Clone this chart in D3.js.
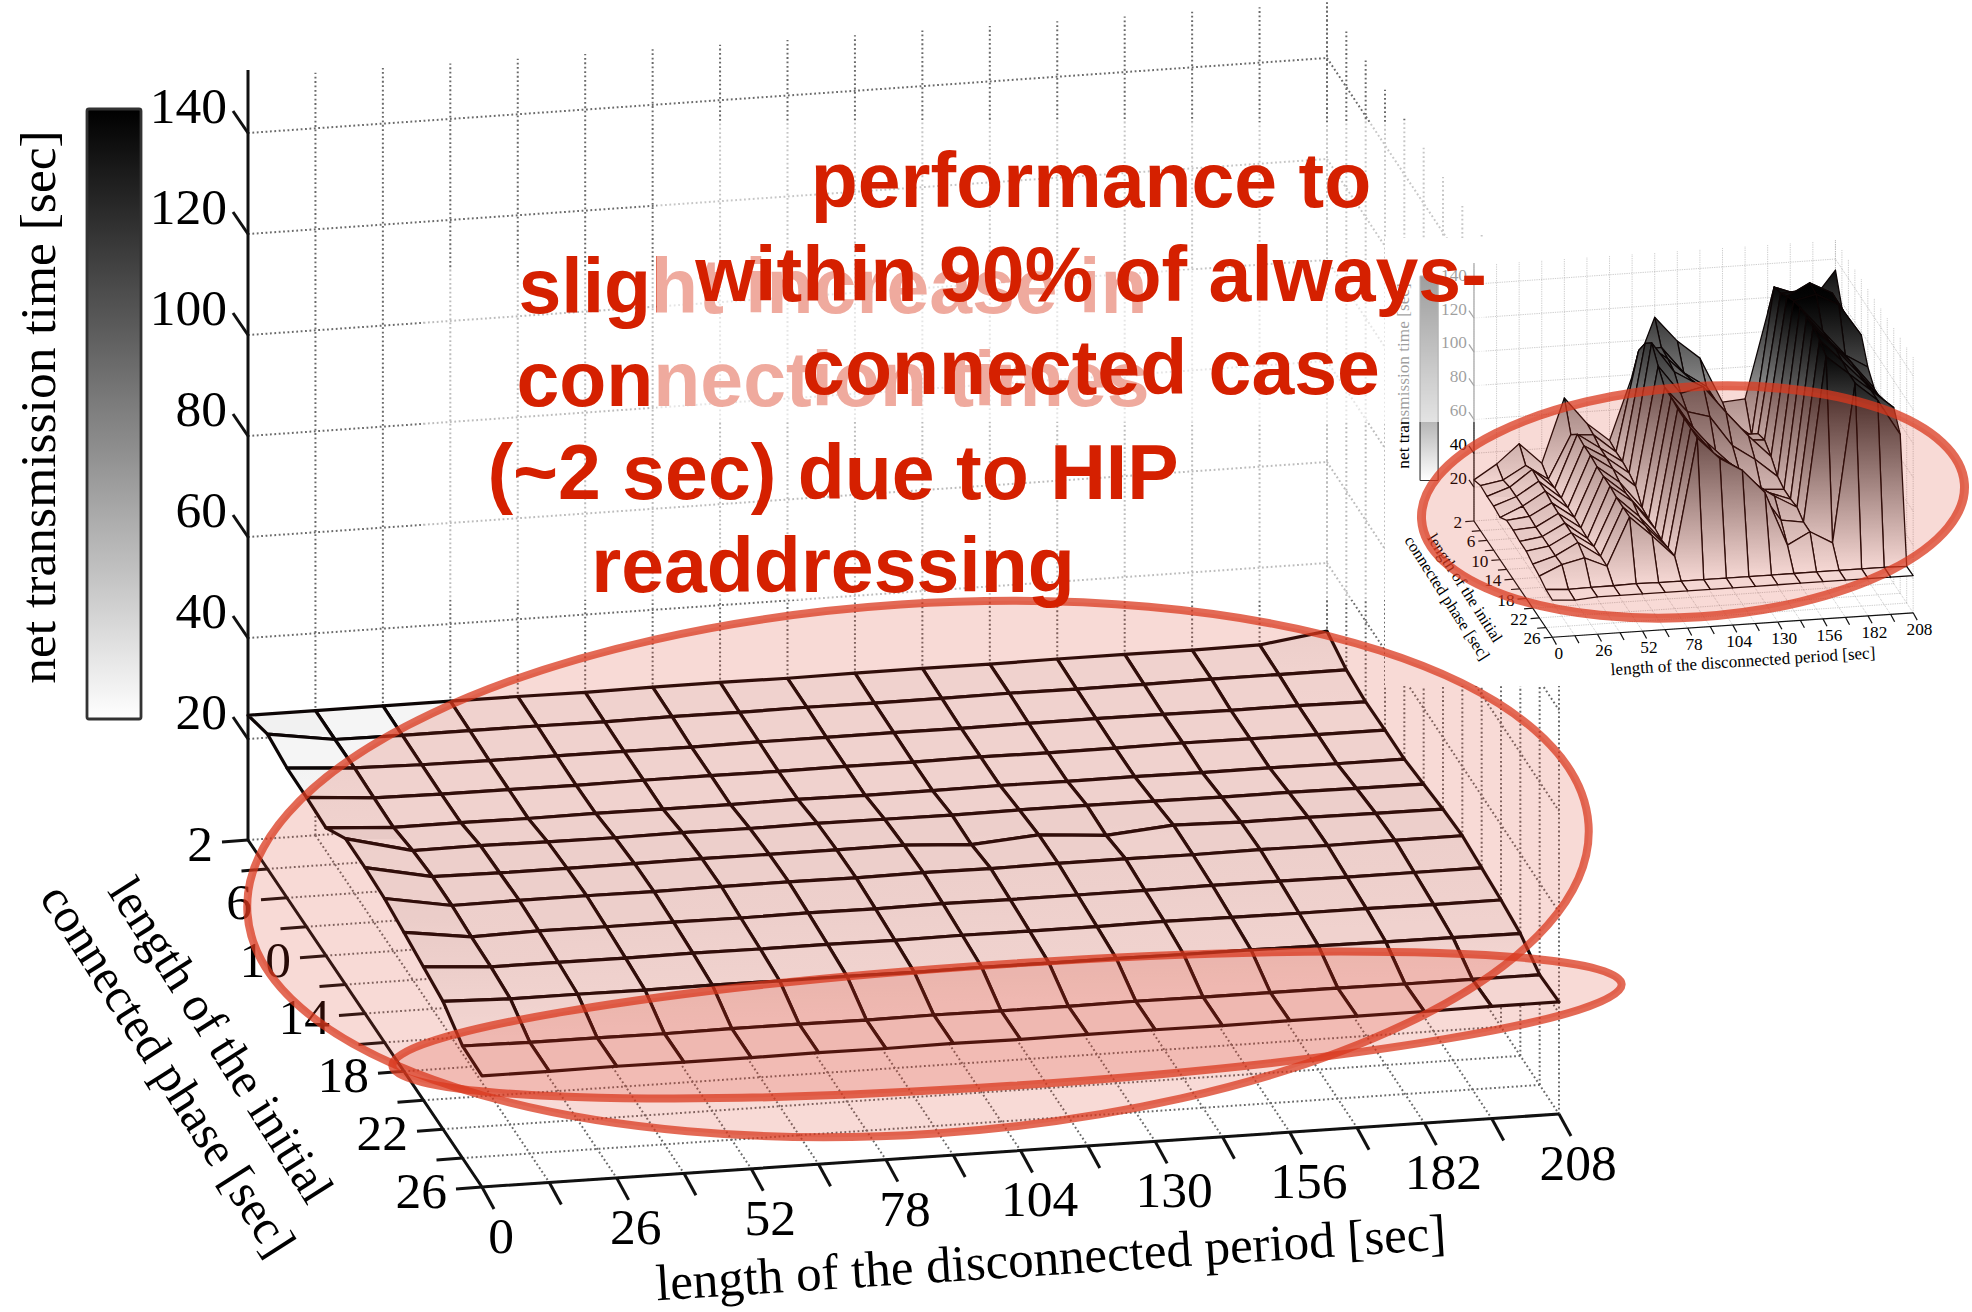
<!DOCTYPE html>
<html>
<head>
<meta charset="utf-8">
<script src="https://cdn.jsdelivr.net/npm/d3@7"></script>
<style>
  html, body { margin: 0; padding: 0; background: #fff; }
  svg { display: block; }
  .serif { font-family: "Liberation Serif", serif; fill: #000; }
  .callout { font-family: "Liberation Sans", sans-serif; font-weight: bold; font-size: 77px; fill: #d52000; text-anchor: middle; }
</style>
</head>
<body>
<div id="chart"></div>
<script>
// Axis values
var xValues = [0, 13, 26, 39, 52, 65, 78, 91, 104, 117, 130, 143, 156, 169, 182, 195, 208];
var yValues = [2, 4, 6, 8, 10, 12, 14, 16, 18, 20, 22, 24, 26];
var zTicks = [20, 40, 60, 80, 100, 120, 140];
var xLabelled = [0, 26, 52, 78, 104, 130, 156, 182, 208];
var yLabelled = [2, 6, 10, 14, 18, 22, 26];

// Net transmission time, one row per y value
var mainSurface = [
  [24.7, 24.7, 24.7, 24.7, 24.7, 24.6, 24.7, 24.7, 24.6, 24.7, 24.7, 24.6, 24.7, 24.7, 24.6, 24.7, 26.5],
  [26.7, 24.7, 24.6, 24.6, 24.6, 24.5, 24.6, 24.5, 24.6, 24.5, 24.5, 24.6, 24.5, 24.5, 24.6, 24.6, 24.6],
  [25.7, 24.8, 24.5, 24.4, 24.4, 24.4, 24.3, 24.4, 24.4, 24.4, 24.3, 24.4, 24.4, 24.3, 24.2, 24.2, 24.0],
  [25.6, 24.6, 24.4, 24.4, 24.3, 24.4, 24.4, 24.3, 24.4, 24.3, 24.4, 24.3, 24.3, 24.4, 24.3, 24.2, 24.2],
  [25.3, 24.5, 24.5, 24.4, 24.5, 24.4, 24.4, 24.5, 24.4, 24.4, 24.5, 24.4, 24.4, 24.3, 24.3, 24.2, 24.2],
  [28.9, 25.6, 25.7, 25.5, 25.4, 25.5, 25.4, 25.5, 25.4, 25.3, 25.4, 25.4, 25.3, 25.2, 25.2, 25.1, 25.0],
  [28.9, 26.2, 26.0, 26.0, 26.0, 26.1, 26.0, 26.0, 26.0, 25.2, 26.2, 25.2, 26.3, 26.0, 26.0, 25.9, 25.8],
  [28.5, 26.2, 26.3, 26.3, 26.2, 26.3, 26.3, 26.2, 26.3, 26.2, 26.3, 26.3, 26.2, 26.3, 26.2, 26.3, 26.3],
  [27.5, 25.7, 26.0, 25.9, 25.9, 25.8, 25.9, 25.8, 25.9, 25.8, 25.8, 25.8, 25.9, 25.8, 25.7, 25.7, 25.7],
  [26.4, 25.5, 25.5, 25.4, 25.5, 25.4, 25.4, 25.3, 25.4, 25.3, 25.3, 25.4, 25.3, 25.2, 25.2, 25.1, 25.1],
  [25.3, 24.9, 24.9, 24.8, 24.9, 24.8, 24.8, 24.7, 24.8, 24.7, 24.7, 24.6, 24.6, 24.5, 24.4, 24.3, 24.2],
  [22.2, 22.0, 22.0, 21.9, 22.0, 22.0, 21.9, 22.0, 21.9, 21.9, 22.0, 21.9, 21.9, 21.9, 21.8, 21.8, 21.8],
  [22.0, 22.0, 22.1, 22.0, 22.0, 22.1, 22.0, 22.1, 22.0, 22.1, 22.1, 22.0, 22.1, 22.1, 22.1, 22.2, 22.2]
];

// Same axes for the small plot top right, the baseline case
var insetSurface = [
  [24.3, 32.7, 43.8, 31.4, 69, 53, 42, 79, 113, 98, 87, 60, 61, 111, 116, 117, 133.5],
  [26.7, 29, 36.7, 27.6, 53, 52, 41, 100, 101, 85, 76, 55, 45, 132, 127, 121, 117],
  [26, 30.5, 40, 28, 59, 50, 41, 110, 100, 87, 74, 52, 52, 134, 135, 127, 114],
  [26, 30.6, 38.8, 28, 58, 50, 40, 116, 98, 90, 76, 55, 54, 138, 145, 138, 116],
  [25, 30.8, 38.7, 28, 58, 49, 38, 108, 91, 94, 78, 63, 50, 141, 144, 137, 118],
  [29, 30.4, 37.5, 28, 57, 47, 31, 101, 86, 82, 64, 55, 44, 143, 128, 113, 105],
  [29, 29.8, 37, 27.6, 57, 46, 30, 101, 81, 65, 56, 43, 42, 143, 128, 114, 98],
  [28, 30, 37, 27, 57, 47, 30, 100, 83, 68, 57, 47, 42, 143, 129, 114, 98],
  [28, 30, 37, 28, 56, 44, 29, 100, 85, 72, 59.5, 50.5, 43, 141, 127.6, 114, 101],
  [26, 30, 37, 28, 56, 44, 30, 100, 84.5, 75, 61, 42, 40, 137, 126, 115, 104],
  [24.7, 30.6, 33.7, 27.8, 56, 44, 31, 100, 87, 79, 65, 33, 40, 32.5, 126, 115, 94],
  [22.6, 21.6, 22, 22, 22.4, 22, 22, 22, 22, 22, 22, 22, 22, 22, 22, 22, 21.7],
  [22, 21, 22, 22, 22, 22, 22, 22, 22, 22, 22, 22, 22, 22, 22, 22, 22]
];

var calloutLower = ["slight increase in", "connection times", "(~2 sec) due to HIP", "readdressing"];
var calloutUpper = ["performance to", "within 90% of always-", "connected case"];

var svgWidth = 1972;
var svgHeight = 1312;

var svg = d3.select("#chart")
  .append("svg")
  .attr("width", svgWidth)
  .attr("height", svgHeight);

// Floor corners of the 3d box in page pixels
var floorBackLeft = [248, 840];
var floorBackRight = [1327, 765];
var floorFrontLeft = [482, 1187];
var floorFrontRight = [1559, 1114];
var zTop = 151;

var xScale = d3.scaleLinear().domain([0, 208]).range([0, 1]);
var yScale = d3.scaleLinear().domain([2, 26]).range([0, 1]);
var zScale = d3.scaleLinear().domain([0, 140]).range([0, 707]);
var grayScale = d3.scaleLinear().domain([20, 140]).range(["#ffffff", "#000000"]).clamp(true);

function project(x, y, z) {
  var u = xScale(x), v = yScale(y);
  var top = d3.interpolateArray(floorBackLeft, floorBackRight)(u);
  var bottom = d3.interpolateArray(floorFrontLeft, floorFrontRight)(u);
  var p = d3.interpolateArray(top, bottom)(v);
  return [p[0], p[1] - zScale(z)];
}

var pathLine = d3.line();
var gradientCount = 0;

function drawPlot(group, surface, lw, gridColor) {
  var grid = group.append("g")
    .attr("fill", "none")
    .attr("stroke", gridColor)
    .attr("stroke-width", 2 * lw)
    .attr("stroke-dasharray", (1.8 * lw) + " " + (2.6 * lw));

  function gridLine(a, b) {
    grid.append("path").attr("d", pathLine([a, b]));
  }

  xValues.forEach(function(x) {
    gridLine(project(x, 2, 0), project(x, 2, zTop));
    gridLine(project(x, 2, 0), project(x, 26, 0));
  });
  yValues.forEach(function(y) {
    gridLine(project(208, y, 0), project(208, y, zTop));
    gridLine(project(0, y, 0), project(208, y, 0));
  });
  zTicks.forEach(function(z) {
    gridLine(project(0, 2, z), project(208, 2, z));
    gridLine(project(208, 2, z), project(208, 26, z));
  });

  // solid axis lines and ticks
  var axes = group.append("g")
    .attr("fill", "none")
    .attr("stroke", "#111")
    .attr("stroke-width", 3 * lw);

  axes.append("path").attr("d", pathLine([project(0, 2, zTop + 1.5), project(0, 2, 0), project(0, 26, 0), project(208, 26, 0)]));

  xValues.forEach(function(x) {
    var p = project(x, 26, 0);
    axes.append("path").attr("d", pathLine([p, [p[0] + 12, p[1] + 22]]));
  });
  yValues.forEach(function(y) {
    var p = project(0, y, 0);
    axes.append("path").attr("d", pathLine([p, [p[0] - 26, p[1] + 2]]));
  });
  zTicks.forEach(function(z) {
    var p = project(0, 2, z);
    axes.append("path").attr("d", pathLine([p, [p[0] - 15, p[1] - 22]]));
  });

  // surface quads, back rows first and far columns first so that nearer ones cover them
  var defs = group.append("defs");
  var cells = group.append("g")
    .attr("stroke", "#0c0505")
    .attr("stroke-width", 3.2 * lw)
    .attr("stroke-linejoin", "round");

  d3.range(yValues.length - 1).forEach(function(r) {
    d3.range(xValues.length - 2, -1, -1).forEach(function(c) {
      var corners = [[r, c], [r, c + 1], [r + 1, c + 1], [r + 1, c]];
      var nodes = corners.map(function(k) {
        return { z: surface[k[0]][k[1]], p: project(xValues[k[1]], yValues[k[0]], surface[k[0]][k[1]]) };
      });
      var high = d3.greatest(nodes, function(n) { return n.z; });
      var low = d3.least(nodes, function(n) { return n.z; });
      var id = "cell" + (gradientCount++);
      var gradient = defs.append("linearGradient")
        .attr("id", id)
        .attr("gradientUnits", "userSpaceOnUse")
        .attr("x1", 0).attr("x2", 0)
        .attr("y1", high.p[1]).attr("y2", Math.max(low.p[1], high.p[1] + 1));
      gradient.append("stop").attr("offset", 0).attr("stop-color", grayScale(high.z));
      gradient.append("stop").attr("offset", 1).attr("stop-color", grayScale(low.z));
      cells.append("path")
        .attr("d", pathLine(nodes.map(function(n) { return n.p; })) + "Z")
        .attr("fill", "url(#" + id + ")");
    });
  });

  // colour bar, the rectangle sits left of the z axis
  var barId = "bar" + (gradientCount++);
  var barGradient = defs.append("linearGradient")
    .attr("id", barId)
    .attr("x1", 0).attr("x2", 0).attr("y1", 0).attr("y2", 1);
  d3.range(0, 1.001, 0.05).forEach(function(t) {
    barGradient.append("stop")
      .attr("offset", t)
      .attr("stop-color", grayScale(140 - t * 120));
  });
  group.append("rect")
    .attr("x", 87).attr("y", 109)
    .attr("width", 54).attr("height", 610)
    .attr("rx", 2)
    .attr("fill", "url(#" + barId + ")")
    .attr("stroke", "#333")
    .attr("stroke-width", 2.8 * lw);

  // tick labels
  var labels = group.append("g").attr("class", "serif").attr("font-size", 51.5);

  zTicks.forEach(function(z) {
    var p = project(0, 2, z);
    labels.append("text")
      .attr("x", p[0] - 21).attr("y", p[1] - 27)
      .attr("dy", "0.33em")
      .attr("text-anchor", "end")
      .text(z);
  });
  yLabelled.forEach(function(y) {
    var p = project(0, y, 0);
    labels.append("text")
      .attr("x", p[0] - 35).attr("y", p[1] + 4)
      .attr("dy", "0.33em")
      .attr("text-anchor", "end")
      .text(y);
  });
  xLabelled.forEach(function(x) {
    var p = project(x, 26, 0);
    labels.append("text")
      .attr("x", p[0] + 19).attr("y", p[1] + 49)
      .attr("dy", "0.33em")
      .attr("text-anchor", "middle")
      .text(x);
  });

  // axis titles
  function title(text, x, y, angle, size) {
    labels.append("text")
      .attr("transform", "translate(" + x + "," + y + ") rotate(" + angle + ")")
      .attr("dy", "0.33em")
      .attr("text-anchor", "middle")
      .attr("font-size", size)
      .text(text);
  }
  title("net transmission time [sec]", 38, 407, -90, 51.5);
  title("length of the disconnected period [sec]", 1051, 1258, -3.7, 51);
  title("length of the initial", 221, 1040, 57.5, 49);
  title("connected phase [sec]", 168, 1070, 57.5, 49);
}

function drawEllipse(cx, cy, a, b, width) {
  svg.append("ellipse")
    .attr("transform", "rotate(-3.8," + cx + "," + cy + ")")
    .attr("cx", cx).attr("cy", cy)
    .attr("rx", a).attr("ry", b)
    .attr("fill", "#d9381e")
    .attr("fill-opacity", 0.185)
    .attr("stroke", "#d9381e")
    .attr("stroke-opacity", 0.75)
    .attr("stroke-width", width);
}

function fade(x, y, width, height, opacity) {
  svg.append("rect")
    .attr("x", x).attr("y", y)
    .attr("width", width).attr("height", height)
    .attr("fill", "#fff")
    .attr("fill-opacity", opacity);
}

function drawCallout(lines, cx, firstBaseline, step) {
  lines.forEach(function(line, i) {
    svg.append("text")
      .attr("class", "callout")
      .attr("x", cx)
      .attr("y", firstBaseline + i * step)
      .text(line);
  });
}

// Big plot
drawPlot(svg.append("g"), mainSurface, 1, "#6a6a6a");

fade(424, 270, 1060, 330, 0.55);

// white sheet under the small plot, then the small plot
svg.append("rect")
  .attr("x", 1385).attr("y", 238)
  .attr("width", svgWidth - 1385).attr("height", 448)
  .attr("fill", "#fff");
drawPlot(svg.append("g").attr("transform", "translate(1390.9,239.6) scale(0.335)"), insetSurface, 1.2, "#aaaaaa");

// Highlight ellipses
drawEllipse(918, 869, 672, 265, 8);
drawEllipse(1007, 1025, 616, 61, 8);
drawEllipse(1693, 502, 272, 115, 9);

// Lower callout
drawCallout(calloutLower, 833, 313, 93);

fade(657, 122, 828, 300, 0.62);

drawCallout(calloutUpper, 1091, 207, 93.5);
</script>
</body>
</html>
